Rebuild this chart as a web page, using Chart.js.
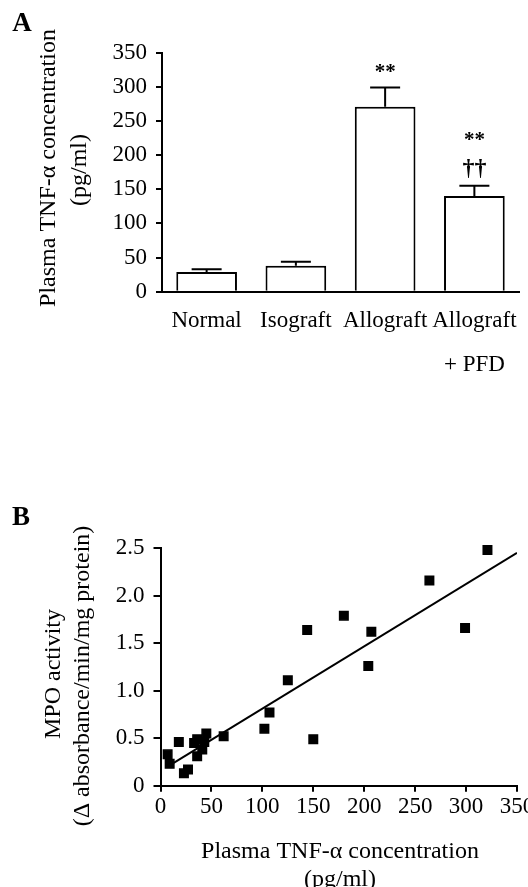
<!DOCTYPE html>
<html>
<head>
<meta charset="utf-8">
<script src="https://cdn.jsdelivr.net/npm/chart.js@4.4.1/dist/chart.umd.min.js"></script>
<style>
  html, body { margin: 0; padding: 0; background: #fff; }
  #wrap { position: relative; width: 528px; height: 887px; overflow: hidden; }
  canvas { position: absolute; left: 0; }
  #chartA { top: 0; }
  #chartB { top: 400px; }
</style>
</head>
<body>
<div id="wrap">
  <canvas id="chartA" width="528" height="400"></canvas>
  <canvas id="chartB" width="528" height="487"></canvas>
</div>
<script>
// Panel A: plasma TNF-alpha per group (mean + SEM)
const groups = ['Normal', 'Isograft', 'Allograft', ['Allograft', '+ PFD']];
const tnfMean = [29, 38, 271, 140];
const tnfSem = [4, 6, 28, 15];
const vsNormal = ['', '', '**', '**'];
const vsAllograft = ['', '', '', '††'];

// Panel B: MPO activity against plasma TNF-alpha
const tnfConc = [7, 9, 18, 23, 27, 33, 36, 36, 41, 43, 45, 62, 102, 107, 125, 144, 150, 180, 204, 207, 264, 299, 321];
const mpoActivity = [0.33, 0.23, 0.46, 0.13, 0.17, 0.45, 0.49, 0.31, 0.38, 0.46, 0.55, 0.52, 0.60, 0.77, 1.11, 1.64, 0.49, 1.79, 1.26, 1.62, 2.16, 1.66, 2.48];
const fitX = [13, 350];
const fitY = [0.24, 2.45];
const tnfTicks = ['0', '50', '100', '150', '200', '250', '300', '350'];
const mpoTicks = ['0', '0.5', '1.0', '1.5', '2.0', '2.5'];

const serif = "'Liberation Serif', 'Times New Roman', serif";
const tickFont = { family: serif, size: 23 };
const titleFont = '24px ' + serif;
const panelFont = 'bold 27px ' + serif;

function drawText(ctx, text, x, y, font, rot) {
  ctx.save();
  ctx.translate(x, y);
  if (rot) ctx.rotate(rot);
  ctx.font = font;
  ctx.fillStyle = '#000';
  ctx.textAlign = 'center';
  ctx.textBaseline = 'middle';
  ctx.fillText(text, 0, 0);
  ctx.restore();
}

const panelA = {
  id: 'panelA',
  afterDatasetsDraw(chart) {
    const ctx = chart.ctx;
    const y = chart.scales.y;
    const bars = chart.getDatasetMeta(0).data;
    ctx.save();
    ctx.strokeStyle = '#000';
    ctx.lineWidth = 2;
    bars.forEach((bar, i) => {
      const top = y.getPixelForValue(tnfMean[i]);
      const err = y.getPixelForValue(tnfMean[i] + tnfSem[i]);
      ctx.beginPath();
      ctx.moveTo(bar.x, top);
      ctx.lineTo(bar.x, err);
      ctx.moveTo(bar.x - 15, err);
      ctx.lineTo(bar.x + 15, err);
      ctx.stroke();
      ctx.fillStyle = '#000';
      ctx.textAlign = 'center';
      ctx.textBaseline = 'alphabetic';
      if (vsAllograft[i]) {
        ctx.font = 'bold 24px ' + serif;
        ctx.fillText(vsAllograft[i], bar.x, err - 11);
        ctx.font = 'bold 21px ' + serif;
        ctx.fillText(vsNormal[i], bar.x, err - 40);
      } else if (vsNormal[i]) {
        ctx.font = 'bold 21px ' + serif;
        ctx.fillText(vsNormal[i], bar.x, err - 10);
      }
    });
    ctx.restore();
  },
  afterDraw(chart) {
    const ctx = chart.ctx;
    drawText(ctx, 'A', 22, 24, panelFont);
    drawText(ctx, 'Plasma TNF-α concentration', 49, 168, titleFont, -Math.PI / 2);
    drawText(ctx, '(pg/ml)', 80, 170, titleFont, -Math.PI / 2);
  }
};

const panelB = {
  id: 'panelB',
  afterDraw(chart) {
    const ctx = chart.ctx;
    drawText(ctx, 'B', 21, 118, panelFont);
    drawText(ctx, 'MPO activity', 54, 274, titleFont, -Math.PI / 2);
    drawText(ctx, '(Δ absorbance/min/mg protein)', 83, 276, titleFont, -Math.PI / 2);
    drawText(ctx, 'Plasma TNF-α concentration', 340, 452, titleFont);
    drawText(ctx, '(pg/ml)', 340, 480, titleFont);
  }
};

new Chart(document.getElementById('chartA'), {
  type: 'bar',
  data: {
    labels: groups,
    datasets: [{
      data: tnfMean,
      backgroundColor: '#fff',
      borderColor: '#000',
      borderWidth: 2,
      barPercentage: 0.68,
      categoryPercentage: 1
    }]
  },
  options: {
    responsive: false,
    animation: false,
    layout: { padding: { top: 52.7, right: 9, left: 0, bottom: 0 } },
    plugins: { legend: { display: false }, tooltip: { enabled: false } },
    scales: {
      x: {
        grid: { display: false },
        border: { display: true, color: '#000', width: 2 },
        ticks: { color: '#000', font: { family: serif, size: 23, lineHeight: 1.91 }, padding: -1, maxRotation: 0, autoSkip: false },
        afterFit: s => { s.height = 108.3; s.paddingLeft = 0; s.paddingRight = 0; }
      },
      y: {
        min: 0,
        max: 350,
        ticks: { stepSize: 50, color: '#000', font: tickFont, padding: 9 },
        grid: { drawOnChartArea: false, drawTicks: true, tickLength: 6, color: '#000', lineWidth: 2 },
        border: { display: true, color: '#000', width: 2 },
        afterFit: s => { s.width = 162; s.paddingTop = 0; s.paddingBottom = 0; }
      }
    }
  },
  plugins: [panelA]
});

new Chart(document.getElementById('chartB'), {
  type: 'scatter',
  data: {
    datasets: [
      {
        type: 'line',
        data: fitX.map((x, i) => ({ x: x, y: fitY[i] })),
        borderColor: '#000',
        borderWidth: 2,
        pointRadius: 0,
        fill: false
      },
      {
        data: tnfConc.map((x, i) => ({ x: x, y: mpoActivity[i] })),
        pointStyle: 'rect',
        pointRadius: 6,
        backgroundColor: '#000',
        borderColor: '#000',
        borderWidth: 1.5,
        clip: false
      }
    ]
  },
  options: {
    responsive: false,
    animation: false,
    layout: { padding: { top: 148.2, right: 11, left: 0, bottom: 0 } },
    plugins: { legend: { display: false }, tooltip: { enabled: false } },
    scales: {
      x: {
        type: 'linear',
        min: 0,
        max: 350,
        ticks: { stepSize: 50, color: '#000', font: tickFont, padding: 1, maxRotation: 0, callback: (v, i) => tnfTicks[i] },
        grid: { drawOnChartArea: false, drawTicks: true, tickLength: 6, color: '#000', lineWidth: 2 },
        border: { display: true, color: '#000', width: 2 },
        afterFit: s => { s.height = 101.3; s.paddingLeft = 0; s.paddingRight = 0; }
      },
      y: {
        min: 0,
        max: 2.5,
        ticks: { stepSize: 0.5, color: '#000', font: tickFont, padding: 9, callback: (v, i) => mpoTicks[i] },
        grid: { drawOnChartArea: false, drawTicks: true, tickLength: 7, color: '#000', lineWidth: 2 },
        border: { display: true, color: '#000', width: 2 },
        afterFit: s => { s.width = 160.5; s.paddingTop = 0; s.paddingBottom = 0; }
      }
    }
  },
  plugins: [panelB]
});
</script>
</body>
</html>
